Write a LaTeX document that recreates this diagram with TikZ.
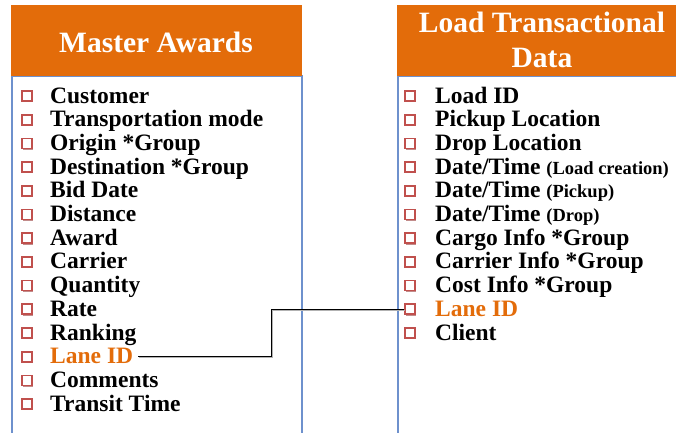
\documentclass[tikz,border=0pt]{standalone}
\usepackage{fontspec}
\setmainfont{Liberation Serif}
\usetikzlibrary{calc,shadows}
\definecolor{HeadClr}{RGB}{227,108,10}
\definecolor{FrameClr}{RGB}{110,145,205}
\definecolor{BoxClr}{RGB}{192,80,77}

\begin{document}
\begin{tikzpicture}[x=1pt,y=-1pt,
  head/.style={fill=HeadClr,draw=none},
  headtxt/.style={text=white,inner sep=0pt,align=center,font=\fontsize{29.5}{35}\selectfont\bfseries},
  frame/.style={draw=FrameClr,line width=1.2pt},
  chkbox/.style={draw=BoxClr,fill=white,line width=1.7pt,minimum size=10pt,inner sep=0pt,
    drop shadow={shadow xshift=1.3pt,shadow yshift=-1.3pt,fill=BoxClr!80!black,opacity=.6}},
  item/.style={anchor=base west,inner sep=0pt,font=\fontsize{23.5}{25}\selectfont\bfseries},
  link/.style={line width=1pt}]
\useasboundingbox (0,0) rectangle (676,432);
\clip (0,0) rectangle (676,432);

% panels
\draw[frame] (12,76) rectangle (302,445);
\fill[head] (11,5) rectangle (302,76);
\draw[frame] (398,76) rectangle (690,445);
\fill[head] (397,5) rectangle (690,76);

\node[headtxt] (ma) at (156,42) {Master Awards};
\node[headtxt] (lt) at (542,40) {Load Transactional\\Data};

% Master Awards fields
\foreach \clr/\txt [count=\i] in {black/Customer,black/Transportation mode,black/Origin *Group,
  black/Destination *Group,black/Bid Date,black/Distance,black/Award,black/Carrier,
  black/Quantity,black/Rate,black/Ranking,HeadClr/Lane ID,black/Comments,black/Transit Time}{
  \node[chkbox] (mab\i) at (27,{96+23.7*(\i-1)}) {};
  \node[item,text=\clr] (ma\i) at (50,{103+23.7*(\i-1)}) {\txt};
}

% Load Transactional Data fields
\foreach \clr/\txt [count=\i] in {black/Load ID,black/Pickup Location,black/Drop Location,
  black/{Date/Time {\fontsize{18.5}{19}\selectfont(Load creation)}},
  black/{Date/Time {\fontsize{18.5}{19}\selectfont(Pickup)}},
  black/{Date/Time {\fontsize{18.5}{19}\selectfont(Drop)}},
  black/Cargo Info *Group,black/Carrier Info *Group,black/Cost Info *Group,
  HeadClr/Lane ID,black/Client}{
  \node[chkbox] (ltb\i) at (410,{96+23.7*(\i-1)}) {};
  \node[item,text=\clr] (lt\i) at (435,{103+23.7*(\i-1)}) {\txt};
}

% Lane ID link
\coordinate (lnk) at ([xshift=5pt]ma12.east);
\draw[link,black!30,transform canvas={shift={(1pt,-1pt)}}] (lnk) -| ($(lnk)!.5!(ltb10.west)$) |- (ltb10.west);
\draw[link] (lnk) -| ($(lnk)!.5!(ltb10.west)$) |- (ltb10.west);

\end{tikzpicture}
\end{document}
